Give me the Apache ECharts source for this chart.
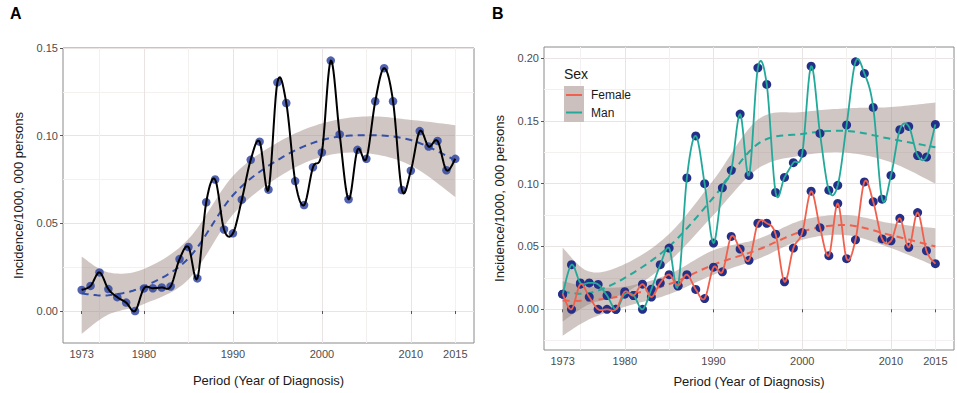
<!DOCTYPE html>
<html><head><meta charset="utf-8">
<script src="https://cdn.jsdelivr.net/npm/echarts@6/dist/echarts.min.js"></script>
<style>html,body{margin:0;padding:0;background:#fff}#c{width:957px;height:393px}</style>
</head><body><div id="c"></div>
<script>
// ---------- data ----------
const years = [1973,1974,1975,1976,1977,1978,1979,1980,1981,1982,1983,1984,1985,1986,1987,1988,1989,1990,1991,1992,1993,1994,1995,1996,1997,1998,1999,2000,2001,2002,2003,2004,2005,2006,2007,2008,2009,2010,2011,2012,2013,2014,2015];
const incidenceA = [0.012,0.0143,0.022,0.0125,0.0079,0.0048,0.000,0.0129,0.013,0.0134,0.014,0.0296,0.0365,0.0186,0.062,0.075,0.0465,0.0443,0.0635,0.0862,0.0966,0.0692,0.1304,0.1186,0.0741,0.0604,0.082,0.0904,0.1428,0.1007,0.0637,0.0919,0.0868,0.1196,0.1385,0.1196,0.069,0.080,0.1026,0.0938,0.097,0.0803,0.0868];
const manB = [0.012,0.0355,0.021,0.021,0.0198,0.011,0.000,0.012,0.011,0.000,0.016,0.0355,0.0487,0.0185,0.1046,0.138,0.100,0.0527,0.0967,0.1106,0.1554,0.1066,0.1922,0.179,0.093,0.105,0.1167,0.1243,0.1935,0.140,0.0948,0.0987,0.1467,0.197,0.1878,0.1607,0.0877,0.1066,0.143,0.1456,0.1224,0.1212,0.1472];
const femaleB = [0.012,0.000,0.020,0.0098,0.000,0.000,0.000,0.014,0.011,0.020,0.0098,0.021,0.0276,0.019,0.0276,0.0158,0.0085,0.0335,0.0298,0.058,0.048,0.039,0.0685,0.0685,0.0598,0.0219,0.0487,0.0611,0.094,0.065,0.0427,0.0843,0.0403,0.0553,0.1014,0.0856,0.056,0.0545,0.0724,0.0493,0.077,0.0466,0.0363];

const trendYears = [1973,1976,1980,1985,1990,1995,2000,2005,2010,2015];
const trendA = [0.010,0.009,0.014,0.030,0.066,0.086,0.0975,0.1003,0.0975,0.086];
const lowerA = [-0.013,-0.002,0.004,0.018,0.055,0.076,0.088,0.090,0.083,0.065];
const upperA = [0.031,0.022,0.024,0.041,0.077,0.096,0.107,0.111,0.109,0.106];
const trendMan = [0.014,0.013,0.025,0.050,0.089,0.1317,0.1396,0.142,0.1356,0.129];
const lowerMan = [-0.0097,0.004,0.013,0.038,0.075,0.112,0.1225,0.1246,0.117,0.100];
const upperMan = [0.049,0.030,0.036,0.060,0.103,0.151,0.157,0.160,0.161,0.1646];
const trendFemale = [0.007,0.007,0.011,0.020,0.0355,0.0474,0.062,0.067,0.059,0.050];
const lowerFemale = [-0.021,-0.008,0.002,0.012,0.0276,0.040,0.0553,0.059,0.0487,0.0343];
const upperFemale = [0.0224,0.018,0.018,0.028,0.047,0.056,0.071,0.075,0.0685,0.0645];

const xTickYears = [1973,1980,1990,2000,2010,2015];
const xGridYears = [1975,1980,1985,1990,1995,2000,2005,2010,2015];
const yTicksA = [0,0.05,0.10,0.15];
const yGridA = [0,0.025,0.05,0.075,0.10,0.125,0.15];
const yTicksB = [0,0.05,0.10,0.15,0.20];
const yGridB = [-0.025,0,0.025,0.05,0.075,0.10,0.125,0.15,0.175,0.20];

// ---------- helpers ----------
const FONT = '"Liberation Sans", Arial, sans-serif';
const MAJOR = '#e9e3e3', MINOR = '#f4f0f0';
const RIBBON = 'rgba(150,128,122,0.45)';
const RED = '#f0604d', TEAL = '#22a99a';
const pair = (xs, ys) => xs.map((x, i) => [x, ys[i]]);

// Catmull-Rom smoothing of pixel points (rendering only)
function spline(pts, steps) {
  const out = [];
  for (let i = 0; i < pts.length - 1; i++) {
    const p0 = pts[Math.max(i - 1, 0)], p1 = pts[i], p2 = pts[i + 1], p3 = pts[Math.min(i + 2, pts.length - 1)];
    for (let s = 0; s < steps; s++) {
      const t = s / steps, t2 = t * t, t3 = t2 * t;
      const f = k => 0.5 * (2 * p1[k] + (-p0[k] + p2[k]) * t + (2 * p0[k] - 5 * p1[k] + 4 * p2[k] - p3[k]) * t2 + (-p0[k] + 3 * p1[k] - 3 * p2[k] + p3[k]) * t3);
      out.push([f(0), f(1)]);
    }
  }
  out.push(pts[pts.length - 1]);
  return out;
}

function labelXAxis(grid) {
  return {
    type: 'value', gridIndex: grid, min: 1970.9, max: 2017.1,
    axisLine: { show: false },
    axisTick: { show: true, length: 3, customValues: xTickYears, lineStyle: { color: '#555' } },
    axisLabel: { customValues: xTickYears, color: '#4d4d4d', fontSize: 11, fontFamily: FONT, margin: 5,
                 formatter: v => String(v) },
    splitLine: { show: false },
    name: 'Period (Year of Diagnosis)', nameLocation: 'middle', nameGap: grid === 0 ? 31 : 25,
    nameTextStyle: { color: '#1a1a1a', fontSize: 13, fontFamily: FONT }
  };
}
function gridXAxis(grid) {
  return {
    type: 'value', gridIndex: grid, min: 1970.9, max: 2017.1, position: 'bottom',
    axisLine: { show: false }, axisLabel: { show: false },
    axisTick: { show: false, customValues: xGridYears },
    splitLine: { show: true, lineStyle: { color: [MINOR, MAJOR], width: 1 } }
  };
}
function labelYAxis(grid, min, max, ticks, gap) {
  return {
    type: 'value', gridIndex: grid, min: min, max: max,
    axisLine: { show: false },
    axisTick: { show: true, length: 3, customValues: ticks, lineStyle: { color: '#555' } },
    axisLabel: { customValues: ticks, color: '#4d4d4d', fontSize: 11, fontFamily: FONT, margin: 5,
                 formatter: v => v.toFixed(2) },
    splitLine: { show: false },
    name: 'Incidence/1000, 000 persons', nameLocation: 'middle', nameGap: gap,
    nameTextStyle: { color: '#1a1a1a', fontSize: 13, fontFamily: FONT }
  };
}
function gridYAxis(grid, min, max, ticks, colors) {
  return {
    type: 'value', gridIndex: grid, min: min, max: max, position: 'left',
    axisLine: { show: false }, axisLabel: { show: false },
    axisTick: { show: false, customValues: ticks },
    splitLine: { show: true, lineStyle: { color: colors, width: 1 } }
  };
}
// confidence band + dashed smooth trend, both mapped through the axes via api.coord
function band(xi, yi, mean, lower, upper, color) {
  return {
    type: 'custom', xAxisIndex: xi, yAxisIndex: yi, silent: true, z: 1,
    data: trendYears.map((y, i) => [y, mean[i], lower[i], upper[i]]),
    encode: { x: 0, y: [1, 2, 3] },
    renderItem: function (params, api) {
      if (params.dataIndex !== 0) return null;
      const up = spline(trendYears.map((y, i) => api.coord([y, upper[i]])), 14);
      const lo = spline(trendYears.map((y, i) => api.coord([y, lower[i]])), 14);
      const md = spline(trendYears.map((y, i) => api.coord([y, mean[i]])), 14);
      return {
        type: 'group', children: [
          { type: 'polygon', shape: { points: up.concat(lo.slice().reverse()) }, style: { fill: RIBBON } },
          { type: 'polyline', z2: 5, shape: { points: md }, style: { stroke: color, lineWidth: 2, lineDash: [7, 5], fill: null } }
        ]
      };
    }
  };
}
function points(xi, yi, vals, color, size, opacity) {
  return { type: 'scatter', xAxisIndex: xi, yAxisIndex: yi, data: pair(years, vals), symbolSize: size,
    itemStyle: { color: color, opacity: opacity }, z: 4, silent: true };
}
// interpolating spline through the observed points
function curve(xi, yi, vals, color, width) {
  return {
    type: 'custom', xAxisIndex: xi, yAxisIndex: yi, silent: true, z: 5, clip: true,
    data: pair(years, vals), encode: { x: 0, y: 1 },
    renderItem: function (params, api) {
      if (params.dataIndex !== 0) return null;
      const pts = spline(years.map((y, i) => api.coord([y, vals[i]])), 10);
      return { type: 'polyline', shape: { points: pts }, style: { stroke: color, lineWidth: width, fill: null, lineJoin: 'round' } };
    }
  };
}

const option = {
  animation: false,
  backgroundColor: '#fff',
  grid: [
    { left: 63, right: 483, top: 48, bottom: 50, show: true, borderColor: '#8a8a8a', borderWidth: 1, backgroundColor: 'transparent' },
    { left: 544, right: 3, top: 47, bottom: 40, show: true, borderColor: '#8a8a8a', borderWidth: 1, backgroundColor: 'transparent' }
  ],
  xAxis: [ labelXAxis(0), gridXAxis(0), labelXAxis(1), gridXAxis(1) ],
  yAxis: [
    labelYAxis(0, -0.01825, 0.15, yTicksA, 38),
    gridYAxis(0, -0.01825, 0.15, yGridA, [MAJOR, MINOR]),
    labelYAxis(1, -0.0324, 0.2088, yTicksB, 38),
    gridYAxis(1, -0.0324, 0.2088, yGridB, [MINOR, MAJOR])
  ],
  series: [
    band(0, 0, trendA, lowerA, upperA, '#3550a8'),
    points(0, 0, incidenceA, '#3146a2', 8.5, 0.85),
    curve(0, 0, incidenceA, '#000', 2),

    band(2, 2, trendMan, lowerMan, upperMan, TEAL),
    band(2, 2, trendFemale, lowerFemale, upperFemale, RED),
    points(2, 2, manB, '#243088', 9, 1),
    points(2, 2, femaleB, '#243088', 9, 1),
    curve(2, 2, manB, TEAL, 1.8),
    curve(2, 2, femaleB, RED, 1.8)
  ],
  graphic: [
    { type: 'text', z: 100, x: 10, y: 13, style: { text: 'A', font: 'bold 16px ' + FONT, fill: '#000', textVerticalAlign: 'middle' } },
    { type: 'text', z: 100, x: 492, y: 13, style: { text: 'B', font: 'bold 16px ' + FONT, fill: '#000', textVerticalAlign: 'middle' } },
    { type: 'text', z: 100, x: 564, y: 74, style: { text: 'Sex', font: '14px ' + FONT, fill: '#1a1a1a', textVerticalAlign: 'middle' } },
    { type: 'rect', z: 99, shape: { x: 564, y: 86, width: 20, height: 36 }, style: { fill: 'rgb(203,192,189)' } },
    { type: 'line', z: 100, shape: { x1: 566, y1: 95, x2: 582, y2: 95 }, style: { stroke: RED, lineWidth: 2 } },
    { type: 'line', z: 100, shape: { x1: 566, y1: 112.5, x2: 582, y2: 112.5 }, style: { stroke: TEAL, lineWidth: 2 } },
    { type: 'text', z: 100, x: 591, y: 95, style: { text: 'Female', font: '12px ' + FONT, fill: '#1a1a1a', textVerticalAlign: 'middle' } },
    { type: 'text', z: 100, x: 591, y: 112.5, style: { text: 'Man', font: '12px ' + FONT, fill: '#1a1a1a', textVerticalAlign: 'middle' } }
  ]
};
const chart = echarts.init(document.getElementById('c'), null, { renderer: 'svg' });
chart.setOption(option);
</script>
</body></html>
